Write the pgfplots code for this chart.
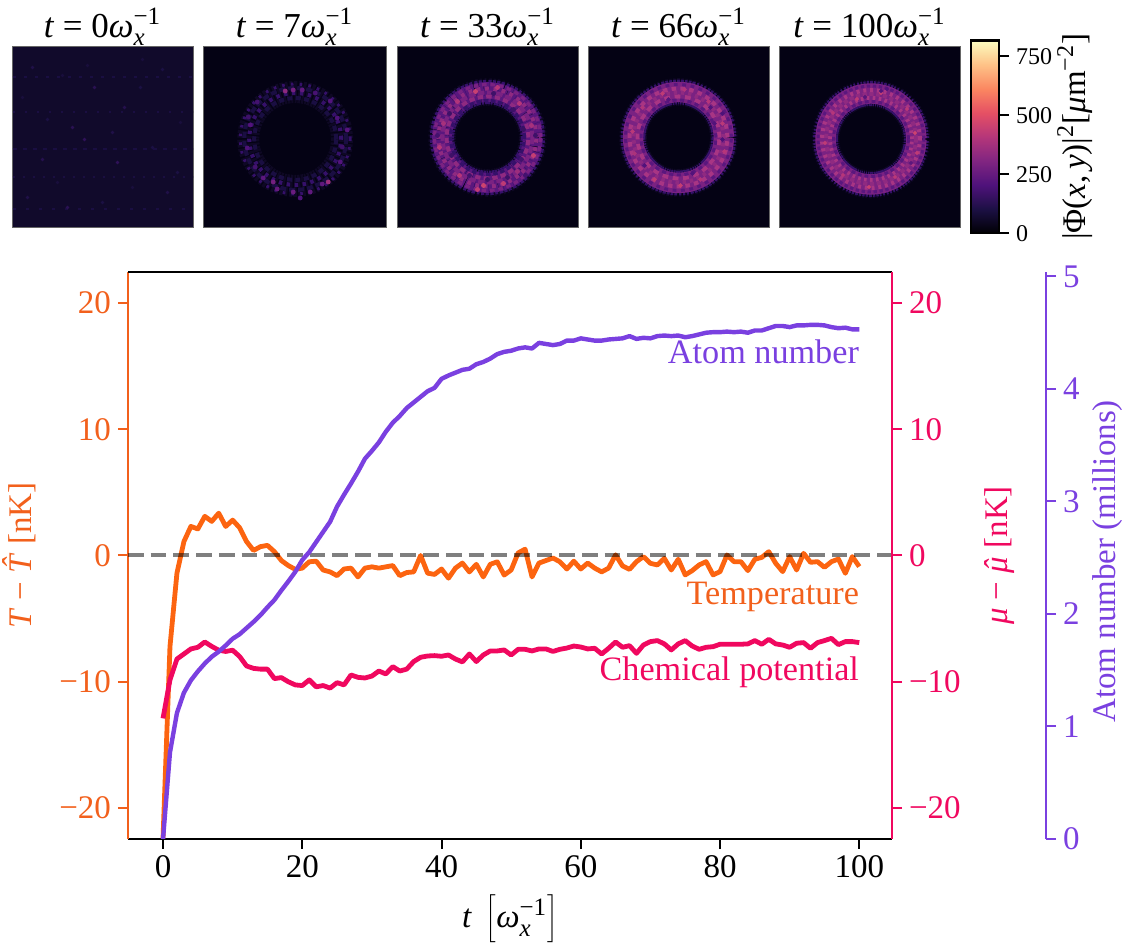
\documentclass[border=0pt]{standalone}
\usepackage{fontspec}
\setmainfont{Liberation Serif}
\usepackage{pgfplots}
\usepackage{pgfplotstable}
\pgfplotsset{compat=1.18}

\definecolor{cT}{HTML}{F2601C}
\definecolor{cTl}{HTML}{FC6410}
\definecolor{cMu}{HTML}{F0085F}
\definecolor{cN}{HTML}{7A40E0}
\definecolor{bgdark}{HTML}{040214}
\definecolor{bgnoise}{HTML}{110A2B}
\definecolor{m0}{HTML}{0E0824}
\definecolor{m1}{HTML}{1A0E42}
\definecolor{m2}{HTML}{35106A}
\definecolor{m3}{HTML}{5A177E}
\definecolor{m4}{HTML}{7A2282}
\definecolor{m5}{HTML}{8F2A81}
\definecolor{m6}{HTML}{A83584}

\newcommand{\mainsize}{\fontsize{16.5}{19}\selectfont}
\newcommand{\notesize}{\fontsize{17.1}{19}\selectfont}
\newcommand{\wx}{\textit{ω}$^{\hbox{\fontsize{12.5}{13}\selectfont −1}}_{\hbox{\fontsize{12.5}{13}\selectfont\textit{x}}}$}
\newcommand{\hatit}[2]{\hbox{\ooalign{\textit{#1}\cr\hidewidth\raisebox{#2}{\textit{ˆ}}\hidewidth\cr}}}

% t, temperature, chemical potential, atom number (millions)
\pgfplotstableread{
t T mu N
0 -22.4 -12.9 0
1 -7.2 -9.85 0.77
2 -1.4 -8.2 1.12
3 1.1 -7.8 1.30
4 2.3 -7.4 1.41
5 2.1 -7.27 1.49
6 3.1 -6.85 1.56
7 2.7 -7.2 1.62
8 3.35 -7.5 1.665
9 2.3 -7.6 1.72
10 2.8 -7.5 1.78
11 2.2 -8.0 1.82
12 1.1 -8.75 1.875
13 0.4 -8.94 1.93
14 0.7 -9.0 1.99
15 0.8 -9.0 2.06
16 0.3 -9.75 2.125
17 -0.4 -9.67 2.21
18 -0.8 -10.0 2.29
19 -1.1 -10.25 2.375
20 -1.0 -10.3 2.48
21 -0.5 -9.85 2.55
22 -0.45 -10.4 2.64
23 -1.15 -10.3 2.73
24 -1.3 -10.5 2.82
25 -1.6 -10.07 2.955
26 -1.07 -10.25 3.06
27 -1.0 -9.46 3.16
28 -1.7 -9.65 3.265
29 -1.0 -9.7 3.38
30 -0.9 -9.55 3.45
31 -1.0 -9.15 3.525
32 -0.9 -9.38 3.62
33 -0.8 -8.8 3.70
34 -1.6 -9.15 3.76
35 -1.35 -9.0 3.83
36 -1.3 -8.4 3.88
37 0.0 -8.06 3.93
38 -1.4 -7.96 3.98
39 -1.5 -7.93 4.01
40 -1.07 -7.98 4.09
41 -1.8 -7.88 4.12
42 -1.0 -8.2 4.145
43 -0.6 -8.43 4.17
44 -1.3 -7.8 4.18
45 -0.7 -8.4 4.22
46 -1.7 -7.88 4.24
47 -0.7 -7.56 4.27
48 -0.5 -7.56 4.31
49 -1.55 -7.48 4.33
50 -1.15 -7.88 4.34
51 0.2 -7.43 4.36
52 0.5 -7.43 4.37
53 -1.7 -7.56 4.36
54 -0.6 -7.4 4.41
55 -0.4 -7.4 4.40
56 -0.2 -7.6 4.39
57 -0.5 -7.43 4.40
58 -1.07 -7.33 4.43
59 -0.45 -7.17 4.43
60 -1.07 -7.25 4.45
61 -0.6 -7.4 4.44
62 -1.0 -7.35 4.43
63 -1.3 -7.8 4.43
64 -1.0 -7.35 4.44
65 0.05 -6.85 4.445
66 -0.83 -7.27 4.45
67 -1.1 -7.14 4.47
68 -0.49 -7.75 4.445
69 -0.09 -7.09 4.455
70 -0.62 -6.82 4.45
71 -0.75 -6.74 4.47
72 -0.23 -7.0 4.475
73 -1.15 -7.48 4.47
74 -0.30 -7.0 4.475
75 -1.54 -6.74 4.46
76 -1.2 -7.17 4.47
77 -0.75 -7.43 4.485
78 -0.49 -7.27 4.5
79 -1.54 -7.22 4.505
80 -1.28 -7.03 4.505
81 0.04 -7.03 4.51
82 -0.49 -7.03 4.505
83 -0.49 -7.03 4.51
84 -1.2 -7.0 4.50
85 -0.30 -6.74 4.52
86 -0.15 -7.03 4.52
87 0.30 -6.64 4.54
88 -0.62 -7.0 4.56
89 -1.28 -7.09 4.56
90 -0.09 -7.27 4.55
91 -1.15 -6.95 4.565
92 0.17 -6.9 4.565
93 -0.54 -7.35 4.57
94 -0.49 -6.9 4.57
95 -0.94 -6.74 4.565
96 -0.49 -6.56 4.55
97 -0.28 -7.06 4.54
98 -1.41 -6.82 4.545
99 -0.09 -6.82 4.53
100 -0.88 -6.9 4.53
}\series

% unit circle the density rings are traced on
\pgfplotstableread{
x y
1.0000 0.0000
0.9659 0.2588
0.8660 0.5000
0.7071 0.7071
0.5000 0.8660
0.2588 0.9659
0.0000 1.0000
-0.2588 0.9659
-0.5000 0.8660
-0.7071 0.7071
-0.8660 0.5000
-0.9659 0.2588
-1.0000 0.0000
-0.9659 -0.2588
-0.8660 -0.5000
-0.7071 -0.7071
-0.5000 -0.8660
-0.2588 -0.9659
0.0000 -1.0000
0.2588 -0.9659
0.5000 -0.8660
0.7071 -0.7071
0.8660 -0.5000
0.9659 -0.2588
1.0000 0.0000
}\ringtbl

% bright and dark grains, x y density, in pixels from the ring centre
\pgfplotstableread{
x y v
-10 48 330
-2 49 280
7 49 240
35 38 210
33 -43 360
-22 -43 280
-2 -53 260
-32 -39 230
-45 14 210
42 21 200
52 9 220
45 -23 210
-48 -9 200
15 -53 240
5 -59 200
-38 37 180
20 46 190
-18 -50 250
27 -45 240
-40 -28 180
47 -8 170
-47 22 170
}\grainB
\pgfplotstableread{
x y v
-12 46 450
10 50 410
-30 36 400
32 34 410
-44 14 380
-48 -10 410
46 -18 440
44 12 380
-28 -38 410
-4 -48 460
16 -46 430
30 -34 360
-10 -52 430
-38 24 170
6 44 170
26 28 170
36 8 160
48 2 170
-50 2 180
-36 -18 170
20 -40 170
-18 -38 180
34 -22 180
0 -42 170
38 -38 180
}\grainC
\pgfplotstableread{
x y v
-16 44 430
6 48 400
30 36 410
-36 30 400
-46 6 420
-44 -16 390
44 14 420
46 -14 410
-24 -42 430
2 -48 440
22 -42 400
32 30 210
44 24 200
36 14 210
44 -2 200
-10 38 220
-34 -28 210
14 -36 210
}\grainD
\pgfplotstableread{
x y v
-14 40 430
10 46 440
36 30 420
-38 26 410
-46 -4 430
44 6 460
46 -14 430
-28 -36 410
-2 -48 450
24 -38 420
10 48 210
16 50 210
-6 42 220
40 -24 230
}\grainE
\pgfplotstableread{
x y v
-70 70 110
-40 62 90
-8 50 130
22 30 120
60 68 100
-80 40 90
-55 18 100
-30 10 130
-18 -2 140
-60 -22 120
15 -25 140
50 -10 100
78 15 90
-75 -60 110
-35 -70 130
0 -65 100
30 -50 90
65 -55 110
-15 72 90
40 78 90
75 -35 100
-45 -45 90
10 5 110
38 50 100
}\grainA

\pgfplotsset{
  colormap={magma}{rgb255=(0,0,4) rgb255=(28,16,68) rgb255=(79,18,123) rgb255=(129,37,129) rgb255=(181,54,122) rgb255=(229,80,100) rgb255=(251,135,97) rgb255=(254,194,135) rgb255=(252,253,191)},
  panel/.style={
    scale only axis, width=90.5pt, height=90.5pt, anchor=south west,
    xmin=-90.5, xmax=90.5, ymin=-90.5, ymax=90.5,
    xtick=\empty, ytick=\empty, axis line style={color=black!60, line width=0.5pt},
    colormap name=magma, point meta min=0, point meta max=817,
    title style={at={(0.5,1)}, anchor=south, yshift=-9pt, font=\fontsize{17.5}{19}\selectfont},
  },
  main/.style={
    scale only axis, width=382pt, height=283.5pt, anchor=south west,
    xmin=-5.03, xmax=104.7, ymin=-22.45, ymax=22.45,
    tick align=outside, major tick length=5pt, tick style={line width=1pt},
    ticklabel style={font=\mainsize},
  },
}
\newcommand{\ring}[3]{\addplot[no marks, smooth, draw=#3, line width=#2] table[x expr=\thisrow{x}*#1, y expr=\thisrow{y}*#1] {\ringtbl};}
\newcommand{\dring}[4]{\addplot[no marks, smooth, draw=#3, line width=#2, dash pattern=#4] table[x expr=\thisrow{x}*#1, y expr=\thisrow{y}*#1] {\ringtbl};}
\newcommand{\grains}[2]{\addplot[scatter, only marks, mark=*, mark size=#2, scatter/use mapped color={draw=mapped color, fill=mapped color}, point meta=explicit] table[x=x, y=y, meta=v] {#1};}

\begin{document}
\begin{tikzpicture}[font=\mainsize]
\path[use as bounding box] (0,0) rectangle (562.5pt,472.5pt);

% density snapshots
\begin{axis}[panel, at={(6pt,358.5pt)}, axis background/.style={fill=bgnoise}, title={\textit{t} = 0\wx}]
  \addplot[no marks, draw=m1, line width=1pt, dash pattern=on 1.5pt off 4pt] coordinates {(-90,60) (90,60)};
  \addplot[no marks, draw=m1, line width=1pt, dash pattern=on 1pt off 5pt] coordinates {(-90,25) (90,25)};
  \addplot[no marks, draw=m1, line width=1pt, dash pattern=on 2pt off 3pt] coordinates {(-90,-12) (90,-12)};
  \addplot[no marks, draw=m1, line width=1pt, dash pattern=on 1pt off 4pt] coordinates {(-90,-40) (90,-40)};
  \addplot[no marks, draw=m1, line width=1pt, dash pattern=on 1.5pt off 5pt] coordinates {(-90,-72) (90,-72)};
  \grains{\grainA}{0.7pt}
\end{axis}

\begin{axis}[panel, at={(101.5pt,358.5pt)}, width=91.5pt, axis background/.style={fill=bgdark},
    xmin=-92.2, xmax=90.8, ymin=-89, ymax=92, title={\textit{t} = 7\wx}]
  \dring{47}{11pt}{m0}{on 1.3pt off 0.7pt}
  \dring{41}{2pt}{m1}{on 2.5pt off 1.7pt}
  \dring{46}{2pt}{m2}{on 1.7pt off 2.3pt}
  \dring{51}{2pt}{m1}{on 3pt off 1.5pt}
  \dring{55}{1.5pt}{m2}{on 1.3pt off 3.1pt}
  \grains{\grainB}{1pt}
\end{axis}

\begin{axis}[panel, at={(198.5pt,358.5pt)}, axis background/.style={fill=bgdark}, title={\textit{t} = 33\wx}]
  \dring{45.5}{13.8pt}{m0}{on 0.9pt off 0.9pt}
  \dring{45.5}{12.2pt}{m2}{on 1.3pt off 0.6pt}
  \dring{45.5}{10pt}{m3}{on 1.9pt off 0.3pt}
  \dring{37}{1.6pt}{m2}{on 2.2pt off 1.4pt}
  \dring{41}{2pt}{m5}{on 2.7pt off 1.6pt}
  \dring{45}{2pt}{m4}{on 3.3pt off 1.3pt}
  \dring{49}{2pt}{m5}{on 1.9pt off 2.3pt}
  \dring{53}{1.6pt}{m4}{on 2.3pt off 1.9pt}
  \grains{\grainC}{1pt}
\end{axis}

\begin{axis}[panel, at={(294pt,358.5pt)}, axis background/.style={fill=bgdark}, title={\textit{t} = 66\wx}]
  \dring{45.5}{13.8pt}{m0}{on 0.9pt off 0.7pt}
  \dring{45.5}{12.4pt}{m2}{on 1.1pt off 0.5pt}
  \ring{45.5}{10.2pt}{m4}
  \dring{41}{2pt}{m6}{on 2.9pt off 2.3pt}
  \dring{45}{2pt}{m5}{on 1.7pt off 1.9pt}
  \dring{49}{2pt}{m6}{on 2.3pt off 2.1pt}
  \dring{53}{1.5pt}{m3}{on 1.9pt off 2.3pt}
  \dring{37.5}{1.5pt}{m3}{on 2.1pt off 1.7pt}
  \grains{\grainD}{0.9pt}
\end{axis}

\begin{axis}[panel, at={(389.5pt,358.5pt)}, axis background/.style={fill=bgdark},
    xmin=-92, xmax=89, ymin=-89, ymax=92, title={\textit{t} = 100\wx},
    colorbar,
    colorbar style={
      at={(parent axis.south east)}, anchor=south west, xshift=-3pt, yshift=-2.6pt,
      scale only axis, width=14pt, height=96.35pt,
      ymin=0, ymax=817, ytick={0,250,500,750}, ytick pos=right, tick align=outside,
      major tick length=5pt, tick style={color=black, line width=1pt},
      axis line style={color=black, line width=1.2pt},
      ticklabel style={font=\fontsize{12}{13}\selectfont},
      /pgf/number format/assume math mode=true,
      ylabel={|Φ(\textit{x},\,\textit{y})|$^{\hbox{\fontsize{12}{13}\selectfont 2}}$[\textit{μ}m$^{\hbox{\fontsize{12}{13}\selectfont −2}}$]},
      every axis y label/.style={at={(rel axis cs:1,0.5)}, rotate=90, anchor=center, yshift=-38pt, font=\mainsize},
    }]
  \dring{45.5}{13.8pt}{m0}{on 0.7pt off 0.7pt}
  \dring{45.5}{12.4pt}{m2}{on 0.9pt off 0.5pt}
  \ring{45.5}{10.2pt}{m4}
  \dring{41}{2pt}{m6}{on 1.3pt off 1.7pt}
  \dring{45}{2pt}{m5}{on 2.1pt off 1.3pt}
  \dring{49}{2pt}{m6}{on 1.5pt off 1.9pt}
  \dring{53}{1.5pt}{m3}{on 1.7pt off 1.3pt}
  \dring{37.5}{1.5pt}{m3}{on 1.9pt off 1.5pt}
  \grains{\grainE}{0.8pt}
\end{axis}

% temperature, left axis, with the zero line
\begin{axis}[main, at={(64pt,53pt)},
    axis x line*=bottom, axis y line*=left,
    x axis line style={color=black, line width=1pt}, y axis line style={color=cT, line width=1pt},
    xtick={0,20,40,60,80,100}, xticklabel style={/pgf/number format/assume math mode=true},
    xtick style={color=black},
    ytick={-20,-10,0,10,20}, yticklabels={−20,−10,0,10,20},
    ytick style={color=cT}, yticklabel style={color=cT},
    xlabel={\textit{t}\, $\left[\hbox{\wx}\right]$},
    every axis x label/.style={at={(rel axis cs:0.5,0)}, anchor=center, yshift=-40pt},
    ylabel={\textit{T} − \hatit{T}{0.17em} [nK]},
    every axis y label/.style={at={(rel axis cs:0,0.5)}, rotate=90, anchor=center, yshift=53pt, color=cT},
  ]
  \addplot[no marks, color=cTl, line width=2.4pt, line join=round] table[x=t, y=T] {\series};
  \addplot[no marks, color=black, opacity=0.5, line width=2pt, dash pattern=on 7.85pt off 3.5pt] coordinates {(-5.03,0) (104.7,0)};
  \node[anchor=base east, color=cT, inner sep=0pt, font=\notesize] at (axis cs:100,-3.85) {Temperature};
\end{axis}

% chemical potential, right axis and the top frame line
\begin{axis}[main, at={(64pt,53pt)},
    axis x line*=top, axis y line*=right,
    x axis line style={color=black, line width=1pt}, y axis line style={color=cMu, line width=1.2pt},
    xtick=\empty,
    ytick={-20,-10,0,10,20}, yticklabels={−20,−10,0,10,20},
    ytick style={color=cMu}, yticklabel style={color=cMu},
    ylabel={\textit{μ} − \hatit{μ}{0pt} [nK]},
    every axis y label/.style={at={(rel axis cs:1,0.5)}, rotate=90, anchor=center, yshift=-54pt, color=cMu},
  ]
  \addplot[no marks, color=cMu, line width=2.4pt, line join=round] table[x=t, y=mu] {\series};
  \node[anchor=base east, color=cMu, inner sep=0pt, font=\notesize] at (axis cs:100,-9.9) {Chemical potential};
\end{axis}

% atom number, plotted over the main frame
\begin{axis}[main, at={(64pt,53pt)}, ymin=0, ymax=5.04, hide axis]
  \addplot[no marks, color=cN, line width=2.2pt, line join=round] table[x=t, y=N] {\series};
  \node[anchor=base east, color=cN, inner sep=0pt, font=\notesize] at (axis cs:100,4.23) {Atom number};
\end{axis}

% its own spine, set off to the right
\begin{axis}[scale only axis, width=0.5pt, height=283.5pt, anchor=south west, at={(522.5pt,53pt)},
    xmin=0, xmax=1, ymin=0, ymax=5.04,
    axis x line=none, axis y line*=right,
    y axis line style={color=cN, line width=1pt},
    ytick={0,1,2,3,4,5}, tick align=outside, major tick length=5pt,
    ytick style={color=cN, line width=1pt}, yticklabel style={color=cN},
    ticklabel style={font=\mainsize},
    /pgf/number format/assume math mode=true,
    ylabel={Atom number (millions)},
    every axis y label/.style={at={(rel axis cs:1,0.5)}, rotate=90, anchor=center, yshift=-31pt, xshift=-3pt, color=cN},
  ]
\end{axis}
\end{tikzpicture}
\end{document}
